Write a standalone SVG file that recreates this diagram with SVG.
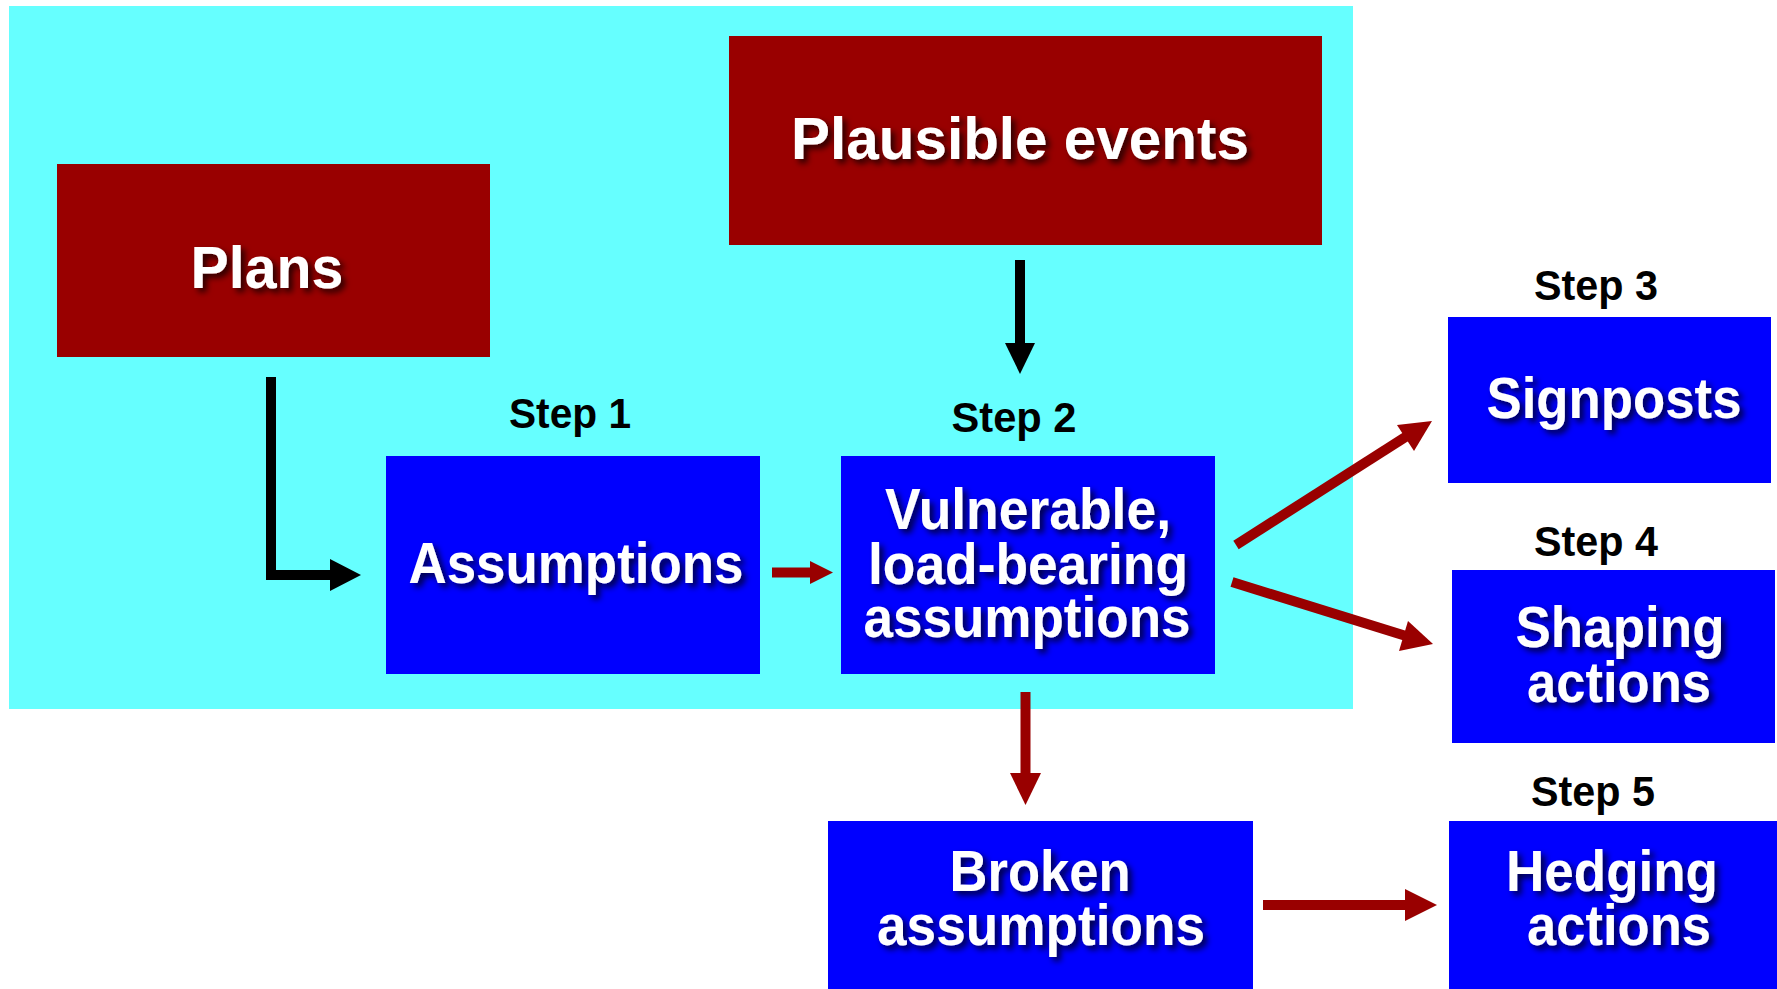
<svg xmlns="http://www.w3.org/2000/svg" width="1777" height="989" viewBox="0 0 1777 989">
<style>
.bg{fill:#66FFFF}
.red{fill:#990000}
.blue{fill:#0000FF}
.lbl{font-family:"Liberation Sans",Arial,sans-serif;font-weight:bold;fill:#FFFFFF;text-anchor:middle;filter:url(#sh)}
.step{font-family:"Liberation Sans",Arial,sans-serif;font-weight:bold;fill:#000000;text-anchor:middle;font-size:42px}
.cb{stroke:#000000;fill:none;stroke-width:10}
.cr{stroke:#990000;fill:none;stroke-width:10}
</style>
<defs>
<filter id="sh" x="-10%" y="-30%" width="125%" height="170%">
<feDropShadow dx="4" dy="4" stdDeviation="3" flood-color="#000000" flood-opacity="0.75"/>
</filter>
</defs>
<rect width="1777" height="989" fill="#FFFFFF"/>
<rect id="panel" class="bg" x="9" y="6" width="1344" height="703"/>

<g id="plans">
<rect class="red" x="57" y="164" width="433" height="193"/>
<text class="lbl" x="267" y="288" font-size="60" textLength="153" lengthAdjust="spacingAndGlyphs">Plans</text>
</g>
<g id="plausible-events">
<rect class="red" x="729" y="36" width="593" height="209"/>
<text class="lbl" x="1020" y="159" font-size="60" textLength="458" lengthAdjust="spacingAndGlyphs">Plausible events</text>
</g>
<g id="step1">
<text class="step" x="570" y="428" textLength="122" lengthAdjust="spacingAndGlyphs">Step 1</text>
</g>
<g id="assumptions">
<rect class="blue" x="386" y="456" width="374" height="218"/>
<text class="lbl" x="576" y="583" font-size="58" textLength="335" lengthAdjust="spacingAndGlyphs">Assumptions</text>
</g>
<g id="step2">
<text class="step" x="1014" y="432" textLength="125" lengthAdjust="spacingAndGlyphs">Step 2</text>
</g>
<g id="vulnerable">
<rect class="blue" x="841" y="456" width="374" height="218"/>
<text class="lbl" x="1028" y="529" font-size="58" textLength="286" lengthAdjust="spacingAndGlyphs">Vulnerable,</text>
<text class="lbl" x="1028" y="584" font-size="58" textLength="320" lengthAdjust="spacingAndGlyphs">load-bearing</text>
<text class="lbl" x="1027" y="637" font-size="58" textLength="327" lengthAdjust="spacingAndGlyphs">assumptions</text>
</g>
<g id="step3">
<text class="step" x="1596" y="300" textLength="124" lengthAdjust="spacingAndGlyphs">Step 3</text>
</g>
<g id="signposts">
<rect class="blue" x="1448" y="317" width="323" height="166"/>
<text class="lbl" x="1614" y="418" font-size="58" textLength="255" lengthAdjust="spacingAndGlyphs">Signposts</text>
</g>
<g id="step4">
<text class="step" x="1596" y="556" textLength="124" lengthAdjust="spacingAndGlyphs">Step 4</text>
</g>
<g id="shaping">
<rect class="blue" x="1452" y="570" width="323" height="173"/>
<text class="lbl" x="1620" y="647" font-size="58" textLength="209" lengthAdjust="spacingAndGlyphs">Shaping</text>
<text class="lbl" x="1619" y="702" font-size="58" textLength="184" lengthAdjust="spacingAndGlyphs">actions</text>
</g>
<g id="broken">
<rect class="blue" x="828" y="821" width="425" height="168"/>
<text class="lbl" x="1040" y="891" font-size="58" textLength="181" lengthAdjust="spacingAndGlyphs">Broken</text>
<text class="lbl" x="1041" y="945" font-size="58" textLength="328" lengthAdjust="spacingAndGlyphs">assumptions</text>
</g>
<g id="step5">
<text class="step" x="1593" y="806" textLength="124" lengthAdjust="spacingAndGlyphs">Step 5</text>
</g>
<g id="hedging">
<rect class="blue" x="1449" y="821" width="328" height="168"/>
<text class="lbl" x="1612" y="891" font-size="58" textLength="212" lengthAdjust="spacingAndGlyphs">Hedging</text>
<text class="lbl" x="1619" y="945" font-size="58" textLength="184" lengthAdjust="spacingAndGlyphs">actions</text>
</g>

<g id="connectors">
<path class="cb" d="M271,377 V575 H332"/>
<polygon points="330,559 361,575 330,591" fill="#000000"/>
<path class="cb" d="M1020,260 V345"/>
<polygon points="1005,343 1035,343 1020,374" fill="#000000"/>
<path class="cr" stroke-width="9" d="M772,572.5 H812"/>
<polygon points="810,561 833,572.5 810,584" fill="#990000"/>
<path class="cr" d="M1236,545 L1407,436"/>
<polygon points="1432,421 1414,451 1397,425" fill="#990000"/>
<path class="cr" d="M1232,582 L1406,636"/>
<polygon points="1433,644 1399,651 1408,621" fill="#990000"/>
<path class="cr" d="M1025.5,692 V775"/>
<polygon points="1010,773 1041,773 1025.5,805" fill="#990000"/>
<path class="cr" d="M1263,905 H1407"/>
<polygon points="1405,889 1437,905 1405,921" fill="#990000"/>
</g>
</svg>
